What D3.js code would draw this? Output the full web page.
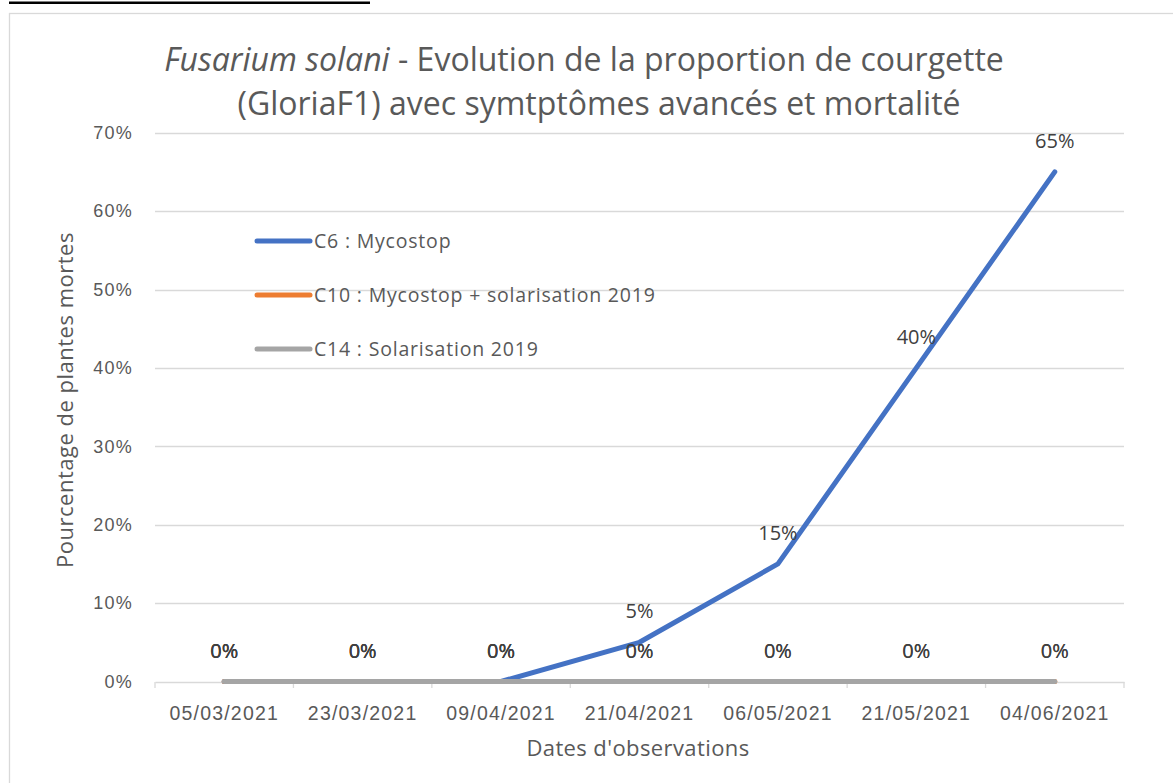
<!DOCTYPE html>
<meta charset="utf-8">
<style>
body { margin: 0; background: #fff; }
svg { display: block; font-family: "Open Sans", sans-serif; }
.axis text { fill: #595959; font-size: 18px; letter-spacing: 1.2px; }
.xaxis text { font-size: 19.5px; letter-spacing: 1.2px; }
.axis path, .axis line { stroke: #d9d9d9; }
.grid line { stroke: #d9d9d9; stroke-width: 1.3; }
.lbl { fill: #404040; font-size: 20px; text-anchor: middle; }
</style>
<svg id="chart"></svg>
<script src="https://d3js.org/d3.v7.min.js"></script>
<script>

var dates = ["05/03/2021", "23/03/2021", "09/04/2021", "21/04/2021", "06/05/2021", "21/05/2021", "04/06/2021"];
var c6 = [0, 0, 0, 0.05, 0.15, 0.40, 0.65];
var c10 = [0, 0, 0, 0, 0, 0, 0];
var c14 = [0, 0, 0, 0, 0, 0, 0];
var seriesNames = ["C6 : Mycostop", "C10 : Mycostop + solarisation 2019", "C14 : Solarisation 2019"];
var yTicks = [0, 0.1, 0.2, 0.3, 0.4, 0.5, 0.6, 0.7];

var colors = ["#4472C4", "#ED7D31", "#A5A5A5"];
var series = [c6, c10, c14];

var W = 1173, H = 783;
var svg = d3.select("#chart").attr("width", W).attr("height", H);

// outer frame + bit of text underline above
svg.append("rect").attr("x", 9.5).attr("y", 13.5).attr("width", W).attr("height", H)
  .attr("fill", "none").attr("stroke", "#d9d9d9").attr("stroke-width", 1.3);
svg.append("rect").attr("x", 9).attr("y", 1.5).attr("width", 361).attr("height", 2.5).attr("fill", "#000");

var x = d3.scaleBand().domain(dates).range([155, 1124]);
var y = d3.scaleLinear().domain([0, 0.7]).range([681.5, 132.7]);

// gridlines
svg.append("g").attr("class", "grid")
  .selectAll("line").data(yTicks.slice(1)).enter().append("line")
  .attr("x1", 155).attr("x2", 1124)
  .attr("y1", function(d) { return Math.round(y(d)) + 0.5; })
  .attr("y2", function(d) { return Math.round(y(d)) + 0.5; });

// y axis labels
var yAxis = d3.axisLeft(y).tickValues(yTicks).tickFormat(d3.format(".0%")).tickSize(0).tickPadding(22);
svg.append("g").attr("class", "axis")
  .attr("transform", "translate(155,0)")
  .call(yAxis)
  .call(function(g) { g.select(".domain").remove(); });

// x axis
var xAxis = d3.axisBottom(x).tickSize(0).tickPadding(24);
var gx = svg.append("g").attr("class", "axis xaxis")
  .attr("transform", "translate(0,682)")
  .call(xAxis);
gx.select(".domain").attr("stroke-width", 1.3);
gx.selectAll(".bt").data(d3.range(dates.length + 1)).enter().append("line")
  .attr("x1", function(i) { return 155 + i * x.step(); })
  .attr("x2", function(i) { return 155 + i * x.step(); })
  .attr("y1", 0).attr("y2", 6).attr("stroke", "#d9d9d9").attr("stroke-width", 1.3);

var line = d3.line()
  .x(function(d, i) { return x(dates[i]) + x.bandwidth() / 2; })
  .y(function(d) { return y(d); });

series.forEach(function(s, k) {
  svg.append("path").datum(s)
    .attr("fill", "none")
    .attr("stroke", colors[k])
    .attr("stroke-width", 5)
    .attr("stroke-linecap", "round")
    .attr("stroke-linejoin", "round")
    .attr("d", line);
});

series.forEach(function(s, k) {
  svg.append("g").selectAll("text").data(s).enter().append("text")
    .attr("class", "lbl")
    .attr("x", function(d, i) { return x(dates[i]) + x.bandwidth() / 2; })
    .attr("y", function(d) { return y(d) - 24; })
    .text(function(d) { return d3.format(".0%")(d); });
});

// legend
var leg = svg.append("g").selectAll("g").data(seriesNames).enter().append("g")
  .attr("transform", function(d, i) { return "translate(257," + (241 + i * 54) + ")"; });
leg.append("line").attr("x1", 0).attr("x2", 53)
  .attr("stroke", function(d, i) { return colors[i]; })
  .attr("stroke-width", 5).attr("stroke-linecap", "round");
leg.append("text").attr("x", 57).attr("dy", "0.35em")
  .attr("fill", "#595959").attr("font-size", "19.5px").attr("letter-spacing", "0.8px")
  .text(function(d) { return d; });

// titles
var title = svg.append("text").attr("text-anchor", "middle").attr("fill", "#595959").attr("font-size", "32px");
title.append("tspan").attr("x", 584).attr("y", 71).attr("font-style", "italic").text("Fusarium solani");
title.append("tspan").text(" - Evolution de la proportion de courgette");
title.append("tspan").attr("x", 599).attr("y", 115).text("(GloriaF1) avec symtptômes avancés et mortalité");

svg.append("text").attr("text-anchor", "middle").attr("fill", "#595959").attr("font-size", "22px")
  .attr("letter-spacing", "0.4px")
  .attr("x", 638).attr("y", 756).text("Dates d'observations");

svg.append("text").attr("text-anchor", "middle").attr("fill", "#595959").attr("font-size", "22px")
  .attr("letter-spacing", "0.5px")
  .attr("transform", "translate(73,400) rotate(-90)").text("Pourcentage de plantes mortes");

</script>
